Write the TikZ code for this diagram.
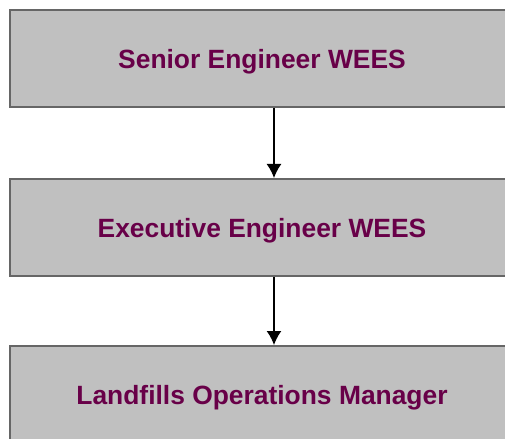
\documentclass[tikz,border=0pt]{standalone}
\usepackage{fontspec}
\setmainfont{Liberation Sans}
\usepackage{xcolor}
\usetikzlibrary{arrows.meta}
\definecolor{boxgray}{RGB}{192,192,192}
\definecolor{edgegray}{RGB}{102,102,102}
\definecolor{titleplum}{RGB}{104,0,72}

\begin{document}
\begin{tikzpicture}[x = 1bp, y = -1bp,
  post/.style = {draw = edgegray, line width = 2bp, fill = boxgray,
    minimum width = 504bp, minimum height = 97bp, inner sep = 0pt,
    text depth = 0pt, text = titleplum,
    font = \fontsize{26.5}{30}\selectfont\bfseries},
  link/.style = {-{Latex[length = 14bp, width = 15bp]}, line width = 1.5bp, black}]
  \useasboundingbox (0, 0) rectangle (505, 439);
\node[post] (senior) at (262, 58.5) {Senior Engineer WEES};
\node[post] (exec) at (262, 227.5) {Executive Engineer WEES};
\node[post] (landfill) at (262, 394.5) {Landfills Operations Manager};
\coordinate (spine) at (274, 0);
  \draw[link] (senior.south -| spine) -- (exec.north -| spine);
  \draw[link] (exec.south -| spine) -- (landfill.north -| spine);
\end{tikzpicture}
\end{document}
